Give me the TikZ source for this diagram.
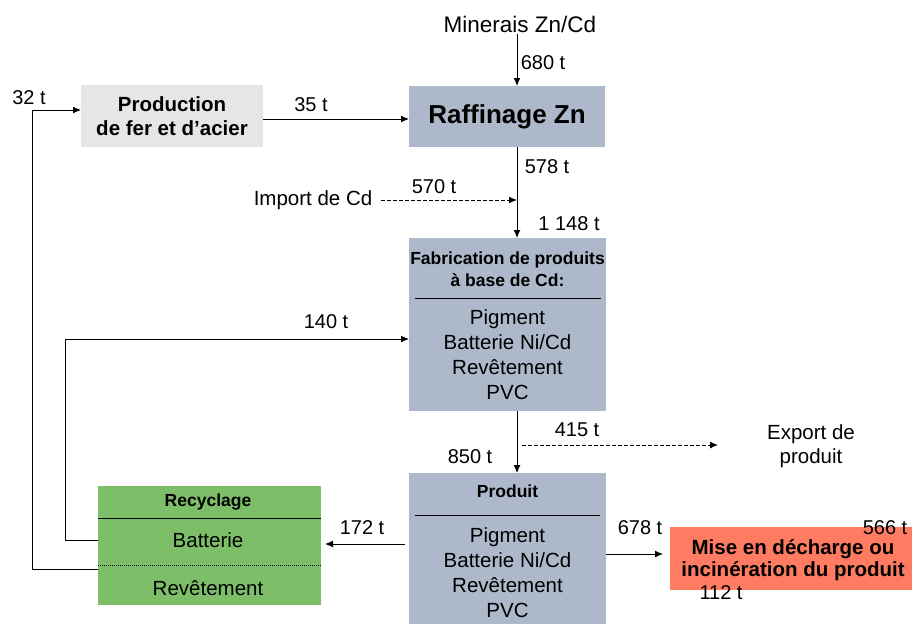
\documentclass[tikz,border=0pt]{standalone}
\usepackage{fontspec}
\setmainfont{Liberation Sans}
\usetikzlibrary{arrows.meta,calc}
\definecolor{bluegray}{HTML}{ADB9CA}
\definecolor{lgray}{HTML}{E6E6E6}
\definecolor{rgreen}{HTML}{7DBE69}
\definecolor{coral}{HTML}{FF7B61}
\tikzset{
 box/.style={draw=none, inner sep=0pt, outer sep=0pt},
 txt/.style={font=\fontsize{20.5}{24}\selectfont, inner sep=1pt, align=center},
 itemtxt/.style={font=\fontsize{20.5}{25}\selectfont, inner sep=1pt, align=center},
 btxt/.style={font=\bfseries\fontsize{20.5}{24}\selectfont, inner sep=1pt, align=center},
 hdr/.style={font=\bfseries\fontsize{17.5}{22}\selectfont, inner sep=1pt, align=center},
 lbl/.style={font=\fontsize{20}{24}\selectfont, inner sep=1pt},
 flow/.style={line width=1pt, -{Latex[length=8pt,width=7pt]}},
 dflow/.style={flow, dash pattern=on 4pt off 2pt},
 sepline/.style={line width=1pt},
}
\begin{document}
\begin{tikzpicture}[x=1pt,y=-1pt]
\useasboundingbox (0,0) rectangle (912,624);
\coordinate (sp) at (517,0);

% boxes
\node[box, fill=lgray, minimum width=182pt, minimum height=62pt, btxt] (prod) at (172,116) {Production\\de fer et d’acier};
\node[box, fill=bluegray, minimum width=196pt, minimum height=61pt, font=\bfseries\fontsize{26}{30}\selectfont] (raff) at (507,116.5) {Raffinage Zn};
\node[box, fill=bluegray, minimum width=197pt, minimum height=173pt] (fab) at (507.5,324.5) {};
\node[box, fill=bluegray, minimum width=197pt, minimum height=151pt] (pr) at (507.5,548.5) {};
\node[box, fill=rgreen, minimum width=223pt, minimum height=119pt] (rec) at (209.5,545.5) {};
\node[box, fill=coral, minimum width=242pt, minimum height=63pt] (mise) at (791,558.5) {};

% box contents
\node[hdr] (fabh) at (507.5,269) {Fabrication de produits\\à base de Cd:};
\draw[sepline] ($(fab.north west)+(6,60)$) -- ($(fab.north east)+(-5,60)$);
\node[itemtxt] (fabi) at (507.5,355) {Pigment\\Batterie Ni/Cd\\Revêtement\\PVC};

\node[hdr] (prh) at (507.5,491) {Produit};
\draw[sepline] ($(pr.north west)+(6,42)$) -- ($(pr.north east)+(-6,42)$);
\node[itemtxt] (pri) at (507.5,573) {Pigment\\Batterie Ni/Cd\\Revêtement\\PVC};

\node[hdr] (rech) at (208,502) {Recyclage};
\draw[sepline] ($(rec.north west)+(0,32)$) -- ($(rec.north east)+(0,32)$);
\node[txt] (bat) at (208,540) {Batterie};
\draw[line width=1pt, densely dotted] ($(rec.north west)+(0,79)$) -- ($(rec.north east)+(0,79)$);
\node[txt] (rev) at (208,588) {Revêtement};

\node[btxt, font=\bfseries\fontsize{20.5}{22}\selectfont] (miset) at (793,560) {Mise en décharge ou\\incinération du produit};

% free texts
\node[txt, font=\fontsize{22.5}{26}\selectfont, inner sep=2pt] (m) at (520,24) {Minerais Zn/Cd};
\node[txt] (imp) at (313,200) {Import de Cd};
\node[txt] (exp) at (811,446) {Export de\\produit};

% labels
\node[lbl] at (543,63) {680 t};
\node[lbl] at (311,105) {35 t};
\node[lbl] at (29,98) {32 t};
\node[lbl] at (547,167) {578 t};
\node[lbl] at (434,187) {570 t};
\node[lbl] at (569,224) {1 148 t};
\node[lbl] at (326,322) {140 t};
\node[lbl] at (577,430) {415 t};
\node[lbl] at (470,457) {850 t};
\node[lbl] at (362,528) {172 t};
\node[lbl] at (640,528) {678 t};
\node[lbl] at (885,528) {566 t};
\node[lbl] at (721,593) {112 t};

% connectors
\coordinate (expend) at (718,445);
\draw[flow] (sp |- m.south) -- (sp |- raff.north);
\draw[flow] ($(prod.east)+(0,3)$) -- ($(raff.west)+(0,2.5)$);
\draw[flow] (sp |- raff.south) -- (sp |- fab.north);
\draw[dflow] ($(imp.east)+(8,0)$) -- (sp |- imp.east);
\draw[flow] (sp |- fab.south) -- (sp |- pr.north);
\draw[dflow] ($(sp |- expend)+(5,0)$) -- (expend);
\draw[flow] (rec.west |- bat) -- ++(-33,0) |- ($(fab.north west)+(0,101)$);
\draw[flow] ($(rec.north west)+(0,83)$) -- ++(-66,0) |- ($(prod.west)+(0,-6)$);
\draw[flow] ($(pr.west)+(-4,-4.5)$) -- ($(rec.east)+(4,-1.5)$);
\draw[flow] ($(pr.east)+(0,5.5)$) -- ($(mise.west)+(-7,-4.5)$);
\end{tikzpicture}
\end{document}
